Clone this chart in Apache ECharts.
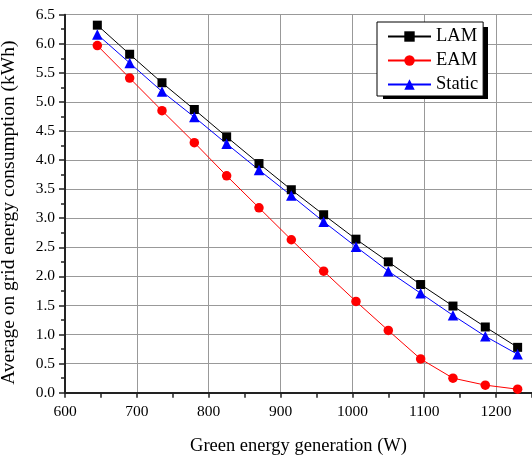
<!DOCTYPE html>
<html><head><meta charset="utf-8">
<script src="https://cdn.jsdelivr.net/npm/echarts@6/dist/echarts.min.js"></script>
<style>html,body{margin:0;padding:0;background:#fff}#c{width:532px;height:455px}</style>
</head><body><div id="c"></div>
<script>
const xValues = [645, 690, 735, 780, 825, 870, 915, 960, 1005, 1050, 1095, 1140, 1185, 1230];
const lam = [6.32, 5.82, 5.33, 4.87, 4.40, 3.94, 3.49, 3.06, 2.64, 2.25, 1.86, 1.49, 1.13, 0.78];
const eam = [5.97, 5.41, 4.85, 4.30, 3.73, 3.18, 2.63, 2.09, 1.57, 1.07, 0.58, 0.25, 0.13, 0.06];
const stat = [6.16, 5.67, 5.18, 4.74, 4.28, 3.83, 3.39, 2.94, 2.51, 2.09, 1.71, 1.33, 0.97, 0.66];
const seriesNames = ['LAM', 'EAM', 'Static'];
const xName = 'Green energy generation (W)';
const yName = 'Average on grid energy consumption (kWh)';

const font = 'Liberation Serif, Times New Roman, serif';
const pair = arr => xValues.map((x, i) => [x, arr[i]]);
const chart = echarts.init(document.getElementById('c'), null, {renderer: 'canvas'});
chart.setOption({
  animation: false,
  backgroundColor: '#fff',
  grid: {left: 65, right: 0, top: 14.7, bottom: 62.3, containLabel: false, outerBoundsMode: 'none'},
  graphic: [{
    type: 'rect', left: 383, top: 27, z: 3,
    shape: {width: 105, height: 72},
    style: {fill: '#000'}
  }],
  legend: {
    orient: 'vertical', left: 377, top: 22,
    data: seriesNames,
    backgroundColor: '#fff', borderColor: '#000', borderWidth: 1,
    padding: [5, 5, 2, 10], itemGap: 5, itemWidth: 43, itemHeight: 13,
    textStyle: {fontFamily: font, fontSize: 18.5, lineHeight: 18.5, color: '#000'},
    z: 4
  },
  xAxis: {
    type: 'value', min: 600, max: 1250, interval: 100,
    name: xName, nameLocation: 'middle', nameGap: 44,
    nameTextStyle: {fontFamily: font, fontSize: 18.5, color: '#000'},
    axisLine: {show: true, onZero: false, lineStyle: {color: '#222', width: 2}},
    axisTick: {show: true, inside: false, length: 5, lineStyle: {color: '#222', width: 1.5}},
    minorTick: {show: true, splitNumber: 2, length: 5, lineStyle: {color: '#222', width: 1.5}},
    axisLabel: {fontFamily: font, fontSize: 15.5, color: '#000', margin: 11, showMaxLabel: false, formatter: v => String(v)},
    splitLine: {show: true, lineStyle: {color: '#999', width: 1}}
  },
  yAxis: {
    type: 'value', min: 0, max: 6.5, interval: 0.5,
    name: yName, nameLocation: 'middle', nameGap: 46,
    nameTextStyle: {fontFamily: font, fontSize: 19.5, color: '#000', padding: [0, 18, 0, 0]},
    axisLine: {show: true, onZero: false, lineStyle: {color: '#222', width: 2}},
    axisTick: {show: true, inside: false, length: 6, lineStyle: {color: '#222', width: 1.5}},
    minorTick: {show: true, splitNumber: 2, length: 4, lineStyle: {color: '#222', width: 1.5}},
    axisLabel: {fontFamily: font, fontSize: 15.5, color: '#000', margin: 10, formatter: v => v.toFixed(1)},
    splitLine: {show: true, lineStyle: {color: '#999', width: 1}}
  },
  series: [
    {name: seriesNames[0], type: 'line', data: pair(lam), symbol: 'rect', symbolSize: 9,
     itemStyle: {color: '#000'}, lineStyle: {color: '#000', width: 1}},
    {name: seriesNames[1], type: 'line', data: pair(eam), symbol: 'circle', symbolSize: 9.5,
     itemStyle: {color: '#ff0000'}, lineStyle: {color: '#ff0000', width: 1}},
    {name: seriesNames[2], type: 'line', data: pair(stat), symbol: 'triangle', symbolSize: 10.5,
     itemStyle: {color: '#0000ff'}, lineStyle: {color: '#0000ff', width: 1}}
  ]
});
</script></body></html>
